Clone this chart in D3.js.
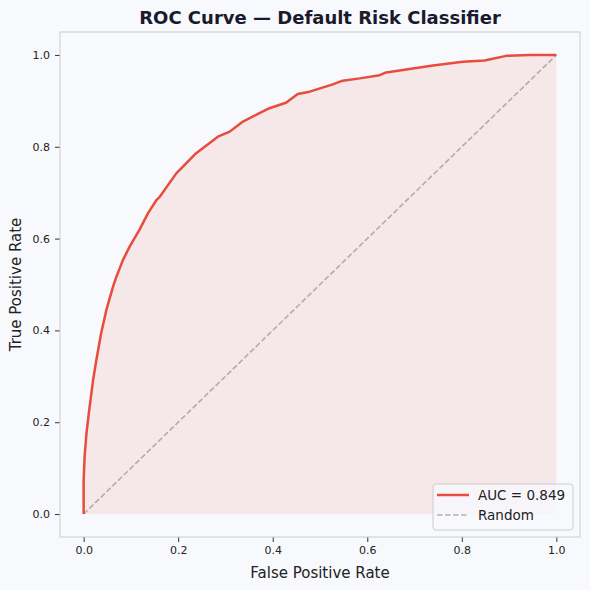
<!DOCTYPE html>
<html>
<head>
<meta charset="utf-8">
<title>ROC Curve</title>
<style>
body { margin: 0; background: #f8f9fc; }
text { font-family: "DejaVu Sans", sans-serif; }
.axis line { stroke: #333; }
.axis text { fill: #222; font-size: 11px; }
</style>
</head>
<body>
<script src="https://cdn.jsdelivr.net/npm/d3@7"></script>
<script>
// ROC points
var fpr = [0, 0.000, 0.002, 0.006, 0.011, 0.020, 0.027, 0.037, 0.048, 0.062, 0.069, 0.083, 0.097,
           0.118, 0.136, 0.154, 0.161, 0.196, 0.238, 0.284, 0.309, 0.337, 0.393, 0.428, 0.453,
           0.478, 0.527, 0.548, 0.584, 0.626, 0.640, 0.739, 0.802, 0.848, 0.894, 0.943, 1.0];
var tpr = [0, 0.074, 0.124, 0.176, 0.220, 0.292, 0.336, 0.394, 0.444, 0.495, 0.516, 0.553, 0.582,
           0.619, 0.655, 0.684, 0.691, 0.742, 0.786, 0.822, 0.833, 0.855, 0.884, 0.896, 0.915,
           0.920, 0.936, 0.944, 0.949, 0.956, 0.962, 0.977, 0.985, 0.988, 0.998, 1.0, 1.0];
var aucLabel = "AUC = 0.849";
var ticks = [0, 0.2, 0.4, 0.6, 0.8, 1.0];

var width = 590, height = 590;
var mLeft = 60, mRight = 580, mTop = 32, mBottom = 537;

var svg = d3.select("body").append("svg")
    .attr("width", width)
    .attr("height", height);

svg.append("rect").attr("width", width).attr("height", height).attr("fill", "#f8f9fc");

var x = d3.scaleLinear().domain([-0.05, 1.05]).range([mLeft, mRight]);
var y = d3.scaleLinear().domain([-0.05, 1.05]).range([mBottom, mTop]);

var pts = fpr.map(function(d, i) { return [d, tpr[i]]; });

// filled area under curve
svg.append("path")
    .datum(pts)
    .attr("fill", "#e74c3c")
    .attr("fill-opacity", 0.1)
    .attr("d", d3.area().x(function(d) { return x(d[0]); }).y0(y(0)).y1(function(d) { return y(d[1]); }));

// random line
svg.append("path")
    .datum([[0, 0], [1, 1]])
    .attr("fill", "none")
    .attr("stroke", "#9a9a9a")
    .attr("stroke-opacity", 0.75)
    .attr("stroke-width", 1.6)
    .attr("stroke-dasharray", "5.5,2.5")
    .attr("d", d3.line().x(function(d) { return x(d[0]); }).y(function(d) { return y(d[1]); }));

// roc curve
svg.append("path")
    .datum(pts)
    .attr("fill", "none")
    .attr("stroke", "#e74c3c")
    .attr("stroke-width", 2.5)
    .attr("stroke-linejoin", "round")
    .attr("d", d3.line().x(function(d) { return x(d[0]); }).y(function(d) { return y(d[1]); }));

// axes
var xAxis = svg.append("g").attr("class", "axis")
    .attr("transform", "translate(0," + mBottom + ")")
    .call(d3.axisBottom(x).tickValues(ticks).tickFormat(d3.format(".1f")).tickSize(5).tickPadding(4));
var yAxis = svg.append("g").attr("class", "axis")
    .attr("transform", "translate(" + mLeft + ",0)")
    .call(d3.axisLeft(y).tickValues(ticks).tickFormat(d3.format(".1f")).tickSize(5).tickPadding(5));
xAxis.select(".domain").remove();
yAxis.select(".domain").remove();

// box spines
svg.append("rect")
    .attr("x", mLeft).attr("y", mTop)
    .attr("width", mRight - mLeft).attr("height", mBottom - mTop)
    .attr("fill", "none").attr("stroke", "#cccccc").attr("stroke-width", 1);

// title + labels
svg.append("text")
    .attr("x", (mLeft + mRight) / 2).attr("y", 24)
    .attr("text-anchor", "middle")
    .attr("font-size", 18).attr("font-weight", "bold").attr("fill", "#1a1a2e")
    .text("ROC Curve \u2014 Default Risk Classifier");

svg.append("text")
    .attr("x", (mLeft + mRight) / 2).attr("y", 578)
    .attr("text-anchor", "middle")
    .attr("font-size", 15).attr("fill", "#222")
    .text("False Positive Rate");

svg.append("text")
    .attr("transform", "translate(21," + (mTop + mBottom) / 2 + ") rotate(-90)")
    .attr("text-anchor", "middle")
    .attr("font-size", 15).attr("fill", "#222")
    .text("True Positive Rate");

// legend
var lg = svg.append("g").attr("transform", "translate(433,484)");
lg.append("rect")
    .attr("width", 140).attr("height", 46).attr("rx", 3)
    .attr("fill", "#f8f9fc").attr("fill-opacity", 0.8)
    .attr("stroke", "#cccccc");
lg.append("line").attr("x1", 4).attr("x2", 36).attr("y1", 11).attr("y2", 11)
    .attr("stroke", "#e74c3c").attr("stroke-width", 2.5);
lg.append("line").attr("x1", 4).attr("x2", 36).attr("y1", 31).attr("y2", 31)
    .attr("stroke", "#9a9a9a").attr("stroke-opacity", 0.75).attr("stroke-width", 1.6)
    .attr("stroke-dasharray", "5.5,2.5");
lg.append("text").attr("x", 45).attr("y", 16).attr("font-size", 13.5).attr("fill", "#222").text(aucLabel);
lg.append("text").attr("x", 45).attr("y", 36).attr("font-size", 13.5).attr("fill", "#222").text("Random");
</script>
</body>
</html>
